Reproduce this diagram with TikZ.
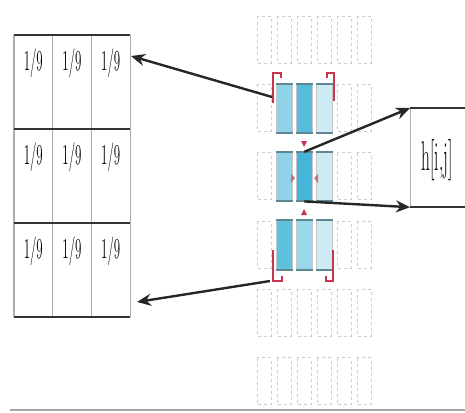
\documentclass[tikz,border=0pt]{standalone}
\usepackage{graphicx}
\usetikzlibrary{arrows.meta}

\definecolor{pixA}{HTML}{8ED3E8}
\definecolor{pixB}{HTML}{56BCDB}
\definecolor{pixC}{HTML}{CDEBF4}
\definecolor{pixD}{HTML}{45B5DA}
\definecolor{pixE}{HTML}{5EC2DF}
\definecolor{pixF}{HTML}{9AD7EA}
\definecolor{pixedge}{HTML}{5F8790}
\definecolor{markred}{HTML}{C8364E}
\definecolor{markpink}{HTML}{D0707C}

\tikzset{
  rowline/.style={black!80, line width=1pt},
  colline/.style={gray!65, line width=0.6pt},
  ghost/.style={draw=gray!40, line width=0.35pt, dash pattern=on 1.5pt off 1.5pt},
  pix/.style={draw=gray!45, line width=0.3pt, minimum width=8pt, minimum height=24.5pt,
    inner sep=0pt, anchor=north west},
  bracket/.style={markred, line width=1pt},
  arr/.style={-{Stealth[length=7pt,width=6pt]}, line width=1.2pt, black!85},
  ninth/.style={font=\Large, inner sep=0pt}
}

\begin{document}
\begin{tikzpicture}[x=0.5pt, y=-0.5pt]
  \useasboundingbox (0,0) rectangle (465,412);

  % Kernel table on the left
  \foreach \r in {0,1,2} {
    \foreach \c in {0,1,2} {
      \node[ninth] (t\r\c) at (33.3+38.7*\c, 63+94*\r) {\scalebox{0.45}[1]{1/9}};
    }
  }
  \foreach \c in {0,1,2,3} {
    \draw[colline] (14+38.7*\c, 35) -- (14+38.7*\c, 317);
  }
  \foreach \r in {0,1,2,3} {
    \draw[rowline] (14, 35+94*\r) -- (130, 35+94*\r);
  }

  % Background pixels (dashed)
  \foreach \i in {0,...,5} {
    \foreach \j in {0,...,5} {
      \draw[ghost] (257+20*\i, 16+68.3*\j) rectangle (271+20*\i, 63+68.3*\j);
    }
  }

  % Neighbourhood pixels
  \foreach \c/\r/\col in {0/0/pixA, 1/0/pixB, 2/0/pixC,
                          0/1/pixA, 1/1/pixD, 2/1/pixC,
                          0/2/pixE, 1/2/pixF, 2/2/pixC} {
    \node[pix, fill=\col] (k\r\c) at (276+20*\c, 83.5+68.3*\r) {};
    \draw[pixedge, line width=1pt] (k\r\c.north west) -- (k\r\c.north east);
    \draw[pixedge, line width=1pt] (k\r\c.south west) -- (k\r\c.south east);
  }

  % Corner brackets
  \draw[bracket] (273,103) -- (273,73) -- (281,73) -- (281,78);
  \draw[bracket] (334,101) -- (334,73) -- (327,73) -- (327,78);
  \draw[bracket] (273,250) -- (273,281) -- (282,281) -- (282,276);
  \draw[bracket] (333,250) -- (333,281) -- (326,281) -- (326,276);

  % Small markers round the centre pixel
  \fill[markred] (301,141) -- (307,141) -- (304,147) -- cycle;
  \fill[markred] (301,215) -- (307,215) -- (304,209) -- cycle;
  \fill[markpink] (291,174) -- (295,178) -- (291,183) -- cycle;
  \fill[markpink] (318,174) -- (314,178) -- (318,183) -- cycle;

  % Output box
  \node[draw=gray!60, line width=0.6pt, minimum width=30pt, minimum height=49pt,
    anchor=north west, inner sep=0pt] (hbox) at (410,108) {};
  \draw[rowline] (hbox.north west) -- ++(60,0);
  \draw[rowline] (hbox.south west) -- ++(60,0);
  \node[font=\huge, inner sep=0pt] (hlab) at (437,160) {\scalebox{0.42}[1]{h[i,j]}};

  % Arrows
  \coordinate (tlb) at (272,97);
  \coordinate (blb) at (270,281);
  \coordinate (gtop) at (131,56);
  \coordinate (gbot) at (137,302);
  \draw[arr] (tlb) -- (gtop);
  \draw[arr] (blb) -- (gbot);
  \draw[arr] (k11.north) -- (hbox.north west);
  \draw[arr] (k11.south) -- (hbox.south west);

  % Bottom rule
  \draw[gray!70, line width=0.8pt] (10,410) -- (465,410);
\end{tikzpicture}
\end{document}
